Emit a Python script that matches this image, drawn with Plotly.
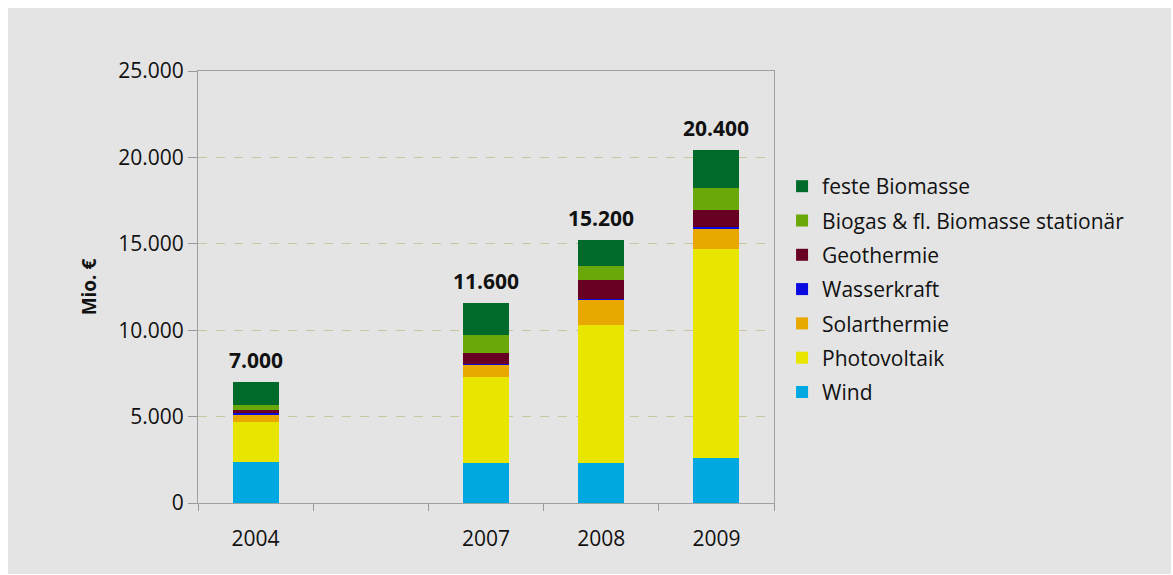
import plotly.graph_objects as go

categories = ["2004", "2007", "2008", "2009"]
axis_categories = ["2004", " ", "2007", "2008", "2009"]

series_names = ["Wind", "Photovoltaik", "Solarthermie", "Wasserkraft",
                "Geothermie", "Biogas & fl. Biomasse stationär", "feste Biomasse"]
wind = [2400, 2300, 2300, 2600]
photovoltaik = [2300, 5000, 8000, 12100]
solarthermie = [450, 700, 1450, 1200]
wasserkraft = [60, 70, 80, 80]
geothermie = [190, 630, 1100, 1000]
biogas = [250, 1000, 770, 1250]
feste_biomasse = [1350, 1900, 1500, 2170]
totals = [7000, 11600, 15200, 20400]

colors = ["#00a8e2", "#e8e600", "#e8a800", "#0a0ae0", "#680024", "#6aa80a", "#006a2a"]

values = [wind, photovoltaik, solarthermie, wasserkraft, geothermie, biogas, feste_biomasse]

FONT = "Open Sans"

fig = go.Figure()
for i, (name, vals, col) in enumerate(zip(series_names, values, colors)):
    fig.add_trace(go.Bar(
        x=categories, y=vals, name=name, marker=dict(color=col, line=dict(width=0)),
        width=0.4, legendrank=100 - i, legendgroup=f"g{i}",
    ))

def de_fmt(v):
    return f"{v:,}".replace(",", ".")

annotations = [dict(x=axis_categories.index(c), y=t, xref="x", yref="y",
                    text=de_fmt(t), showarrow=False,
                    yanchor="bottom", yshift=6,
                    font=dict(family=FONT, size=21, color="#111111", weight="bold"))
               for c, t in zip(categories, totals)]

fig.update_layout(
    barmode="stack",
    width=1173, height=575,
    margin=dict(l=198, r=399, t=71, b=72),
    paper_bgcolor="white",
    plot_bgcolor="#e6e4a8",
    separators=",.",
    font=dict(family=FONT, size=18, color="#111111"),
    showlegend=True,
    annotations=annotations,
    legend=dict(
        x=1.014, y=0.78, xanchor="left", yanchor="top",
        traceorder="grouped", tracegroupgap=4,
        bgcolor="rgba(0,0,0,0)", font=dict(family=FONT, size=21, color="#111111"),
        itemwidth=30,
    ),
    shapes=[dict(type="rect", xref="paper", yref="paper",
                 x0=(8 - 198) / 576, x1=(1171 - 198) / 576,
                 y0=(503 - 574) / 432, y1=(503 - 8) / 432,
                 fillcolor="#e4e4e4", line=dict(width=0), layer="below")],
    xaxis=dict(
        type="category", categoryorder="array", categoryarray=axis_categories,
        range=[-0.5, 4.5], tickson="boundaries", ticks="outside", ticklen=7,
        tickcolor="#999999", showline=True, linecolor="#a0a0a0", linewidth=1,
        mirror=True, showgrid=False, tickfont=dict(size=21), ticklabelstandoff=17,
    ),
    yaxis=dict(
        range=[0, 25000], tickvals=[0, 5000, 10000, 15000, 20000, 25000],
        tickformat=",d", ticks="outside", ticklen=9, tickcolor="#999999",
        showline=True, linecolor="#a0a0a0", linewidth=1, mirror=True,
        showgrid=True, gridcolor="#c8c6a0", griddash="dash", gridwidth=1,
        tickfont=dict(size=21), zeroline=False,
        title=dict(text="Mio. €", font=dict(size=19, weight="bold"), standoff=16),
    ),
)

fig.write_html("out.html")
